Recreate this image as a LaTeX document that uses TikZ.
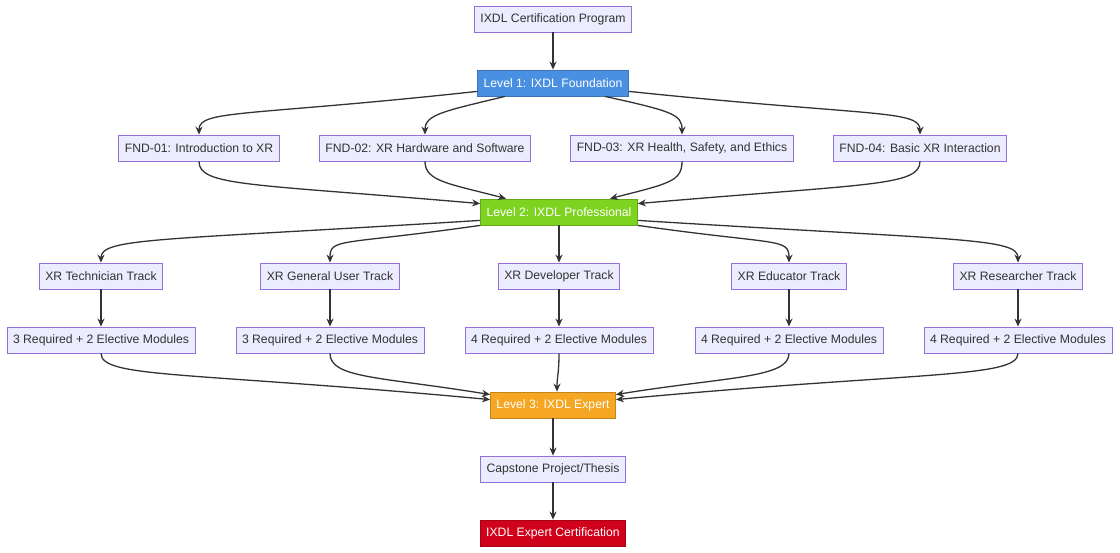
\documentclass[tikz,border=0pt]{standalone}
\usepackage{fontspec}
\setmainfont{Liberation Sans}
\usetikzlibrary{arrows.meta,calc}
\definecolor{nfill}{HTML}{ECECFF}
\definecolor{nline}{HTML}{9370DB}
\definecolor{ecol}{HTML}{333333}
\begin{document}
\begin{tikzpicture}[x=1pt,y=-1pt,
  box/.style={draw=nline,fill=nfill,line width=0.8pt,minimum height=26pt,inner xsep=6pt,font=\fontsize{12.2}{14}\selectfont,text=ecol},
  lvl/.style={box,draw=#1!80!black,fill=#1,text=white},
  e/.style={draw=ecol,line width=1.3pt,-{Stealth[length=8pt,width=7pt]}}]
\useasboundingbox (0,0) rectangle (1120,553);
\definecolor{cb}{HTML}{4A90E2}\definecolor{cg}{HTML}{7ED321}
\definecolor{co}{HTML}{F5A623}\definecolor{cr}{HTML}{D0021B}
\node[box] (P) at (553,19) {IXDL Certification Program};
\node[lvl=cb] (L1) at (553,83) {Level 1: IXDL Foundation};
\node[box] (F1) at (199,148) {FND-01: Introduction to XR};
\node[box] (F2) at (425,148) {FND-02: XR Hardware and Software};
\node[box] (F3) at (682,148) {FND-03: XR Health, Safety, and Ethics};
\node[box] (F4) at (920,148) {FND-04: Basic XR Interaction};
\node[lvl=cg] (L2) at (559,212) {Level 2: IXDL Professional};
\node[box] (T1) at (101,276) {XR Technician Track};
\node[box] (T2) at (330,276) {XR General User Track};
\node[box] (T3) at (559,276) {XR Developer Track};
\node[box] (T4) at (789,276) {XR Educator Track};
\node[box] (T5) at (1018,276) {XR Researcher Track};
\node[box] (M1) at (101,340) {3 Required + 2 Elective Modules};
\node[box] (M2) at (330,340) {3 Required + 2 Elective Modules};
\node[box] (M3) at (559,340) {4 Required + 2 Elective Modules};
\node[box] (M4) at (789,340) {4 Required + 2 Elective Modules};
\node[box] (M5) at (1018,340) {4 Required + 2 Elective Modules};
\node[lvl=co] (L3) at (553,405) {Level 3: IXDL Expert};
\node[box] (C) at (553,469) {Capstone Project/Thesis};
\node[lvl=cr] (X) at (553,533) {IXDL Expert Certification};
\draw[e] (P) -- (L1);
% fan-out L1
\draw[e] ($(L1.south west)+(0,-5)$) .. controls ($(L1.south west)+(-230,20)$) and ($(F1.north)+(0,-25)$) .. (F1.north);
\draw[e] ($(L1.south)+(-48,0)$) .. controls ($(L1.south)+(-110,15)$) and ($(F2.north)+(0,-20)$) .. (F2.north);
\draw[e] ($(L1.south)+(52,0)$) .. controls ($(L1.south)+(120,15)$) and ($(F3.north)+(0,-20)$) .. (F3.north);
\draw[e] ($(L1.south east)+(0,-5)$) .. controls ($(L1.south east)+(240,20)$) and ($(F4.north)+(0,-25)$) .. (F4.north);
% merge L2
\draw[e] (F1.south) .. controls ($(F1.south)+(0,25)$) and ($(L2.north west)+(-230,-15)$) .. ($(L2.north west)+(0,5)$);
\draw[e] (F2.south) .. controls ($(F2.south)+(0,20)$) and ($(L2.north)+(-110,-15)$) .. ($(L2.north)+(-53,0)$);
\draw[e] (F3.south) .. controls ($(F3.south)+(0,20)$) and ($(L2.north)+(110,-15)$) .. ($(L2.north)+(51,0)$);
\draw[e] (F4.south) .. controls ($(F4.south)+(0,25)$) and ($(L2.north east)+(230,-15)$) .. ($(L2.north east)+(0,5)$);
% fan-out L2
\draw[e] ($(L2.south west)+(0,-5)$) .. controls ($(L2.south west)+(-320,15)$) and ($(T1.north)+(0,-25)$) .. (T1.north);
\draw[e] ($(L2.south west)+(0,0)$) .. controls ($(L2.south west)+(-140,20)$) and ($(T2.north)+(0,-25)$) .. (T2.north);
\draw[e] (L2) -- (T3);
\draw[e] ($(L2.south east)+(0,0)$) .. controls ($(L2.south east)+(140,20)$) and ($(T4.north)+(0,-25)$) .. (T4.north);
\draw[e] ($(L2.south east)+(0,-5)$) .. controls ($(L2.south east)+(320,15)$) and ($(T5.north)+(0,-25)$) .. (T5.north);
\foreach \i in {1,...,5}{\draw[e] (T\i) -- (M\i);}
% merge L3
\draw[e] (M1.south) .. controls ($(M1.south)+(0,25)$) and ($(L3.north west)+(-300,-20)$) .. ($(L3.north west)+(0,8)$);
\draw[e] (M2.south) .. controls ($(M2.south)+(0,25)$) and ($(L3.north west)+(-110,-15)$) .. ($(L3.north west)+(0,3)$);
\draw[e] (M3.south) .. controls ($(M3.south)+(0,20)$) and ($(L3.north)+(4,-15)$) .. ($(L3.north)+(4,0)$);
\draw[e] (M4.south) .. controls ($(M4.south)+(0,25)$) and ($(L3.north east)+(110,-15)$) .. ($(L3.north east)+(0,3)$);
\draw[e] (M5.south) .. controls ($(M5.south)+(0,25)$) and ($(L3.north east)+(300,-20)$) .. ($(L3.north east)+(0,8)$);
\draw[e] (L3) -- (C);
\draw[e] (C) -- (X);
\end{tikzpicture}
\end{document}
